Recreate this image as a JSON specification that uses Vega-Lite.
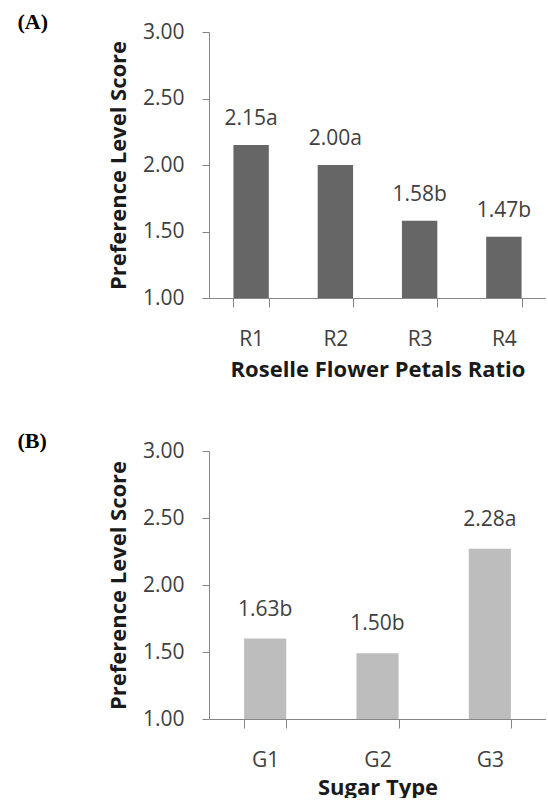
{
  "$schema": "https://vega.github.io/schema/vega-lite/v6.json",
  "padding": {"left": 17, "top": 11, "right": 0, "bottom": 0},
  "autosize": {"type": "pad"},
  "background": "white",
  "spacing": 50,
  "config": {
    "view": {"stroke": null},
    "font": "Open Sans",
    "axis": {
      "domainColor": "#868686",
      "tickColor": "#868686",
      "labelFont": "Open Sans",
      "labelFontSize": 21,
      "labelColor": "#404040",
      "titleFont": "Open Sans",
      "titleFontSize": 22,
      "titleFontWeight": "bold",
      "titleColor": "#1a1a1a",
      "grid": false,
      "tickSize": 7
    },
    "title": {"font": "Liberation Serif", "fontSize": 22, "fontWeight": "bold", "anchor": "start", "frame": "bounds", "color": "#000000"}
  },
  "datasets": {
    "roselle": [
      {"ratio": "R1", "score": 2.15, "label": "2.15a"},
      {"ratio": "R2", "score": 2.0, "label": "2.00a"},
      {"ratio": "R3", "score": 1.58, "label": "1.58b"},
      {"ratio": "R4", "score": 1.46, "label": "1.47b"}
    ],
    "sugar": [
      {"type": "G1", "score": 1.6, "label": "1.63b"},
      {"type": "G2", "score": 1.49, "label": "1.50b"},
      {"type": "G3", "score": 2.27, "label": "2.28a"}
    ]
  },
  "vconcat": [
    {
      "width": 337,
      "height": 266,
      "title": {"text": "(A)", "dx": -90, "offset": -13},
      "data": {"name": "roselle"},
      "encoding": {
        "x": {"field": "ratio", "type": "nominal", "sort": null,
          "scale": {"paddingInner": 0.58, "paddingOuter": 0.29},
          "axis": {"title": "Roselle Flower Petals Ratio", "labelAngle": 0, "tickBand": "extent", "tickSize": 9, "labelPadding": 21, "titlePadding": 10}},
        "y": {"field": "score", "type": "quantitative",
          "scale": {"domain": [1, 3], "zero": false, "nice": false},
          "axis": {"title": "Preference Level Score", "values": [1, 1.5, 2, 2.5, 3], "format": ".2f", "labelPadding": 18, "titlePadding": 12}}
      },
      "layer": [
        {"mark": {"type": "bar", "color": "#666666"}, "encoding": {"y2": {"datum": 1}}},
        {"mark": {"type": "text", "dy": -20, "baseline": "alphabetic", "fontSize": 21, "color": "#404040", "font": "Open Sans"},
         "encoding": {"text": {"field": "label"}}}
      ]
    },
    {
      "width": 337,
      "height": 268,
      "title": {"text": "(B)", "dx": -90, "offset": -13},
      "data": {"name": "sugar"},
      "encoding": {
        "x": {"field": "type", "type": "nominal", "sort": null,
          "scale": {"paddingInner": 0.625, "paddingOuter": 0.3125},
          "axis": {"title": "Sugar Type", "labelAngle": 0, "tickBand": "extent", "tickSize": 9, "labelPadding": 21, "titlePadding": 7}},
        "y": {"field": "score", "type": "quantitative",
          "scale": {"domain": [1, 3], "zero": false, "nice": false},
          "axis": {"title": "Preference Level Score", "values": [1, 1.5, 2, 2.5, 3], "format": ".2f", "labelPadding": 18, "titlePadding": 12}}
      },
      "layer": [
        {"mark": {"type": "bar", "color": "#bdbdbd"}, "encoding": {"y2": {"datum": 1}}},
        {"mark": {"type": "text", "dy": -23, "baseline": "alphabetic", "fontSize": 21, "color": "#404040", "font": "Open Sans"},
         "encoding": {"text": {"field": "label"}}}
      ]
    }
  ]
}
